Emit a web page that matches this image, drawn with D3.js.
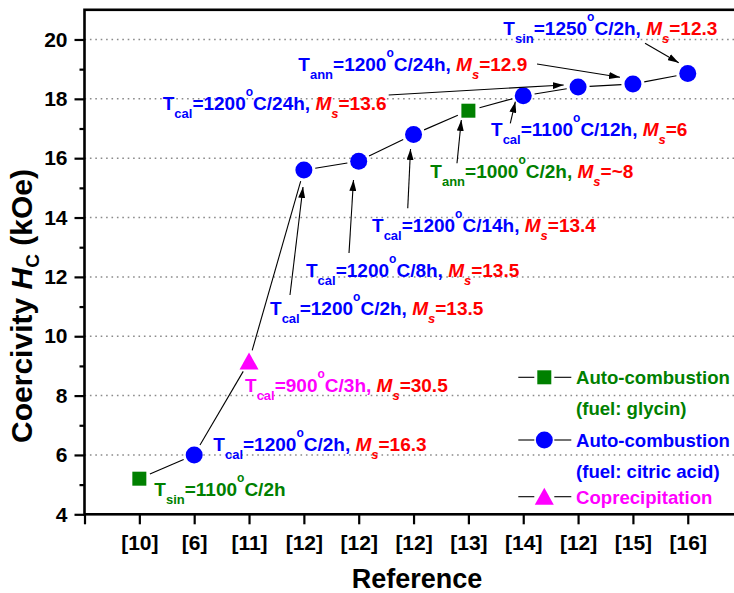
<!DOCTYPE html>
<html><head><meta charset="utf-8">
<script src="https://cdn.jsdelivr.net/npm/d3@7"></script>
<style>
html,body{margin:0;padding:0;background:#fff;}
svg{display:block;font-family:"Liberation Sans",Arial,sans-serif;font-weight:bold;}
text{white-space:pre;}
</style></head><body>
<svg id="chart" width="734" height="593"></svg>
<script>
// Literature reference for each reported sample (x axis categories)
const references = ['[10]','[6]','[11]','[12]','[12]','[12]','[13]','[14]','[12]','[15]','[16]'];
// Coercivity Hc in kOe
const coercivity = [5.2, 6.0, 9.15, 15.6, 15.9, 16.8, 17.6, 18.1, 18.4, 18.5, 18.85];
// Synthesis route of each sample
const routes = ['glycin','citric','coprecip','citric','citric','citric','glycin','citric','citric','citric','citric'];
// Heat treatment: kind (subscript), temperature in °C, duration
const treatKinds = ['sin','cal','cal','cal','cal','cal','ann','cal','cal','ann','sin'];
const treatTemps = [1100,1200,900,1200,1200,1200,1000,1100,1200,1200,1250];
const treatTimes = ['2h','2h','3h','2h','8h','14h','2h','12h','24h','24h','2h'];
// Saturation magnetisation quoted next to each sample
const msValues = [null,'16.3','30.5','13.5','13.5','13.4','~8','6','13.6','12.9','12.3'];
// Axis ticks
const yMajorTicks = [4,6,8,10,12,14,16,18,20];
const yMinorTicks = [5,7,9,11,13,15,17,19];
const gridValues = [6,8,10,12,14,16,18,20];
// Legend
const legendRoutes = ['glycin','citric','coprecip'];
const legendTexts = [['Auto-combustion','(fuel: glycin)'],['Auto-combustion','(fuel: citric acid)'],['Coprecipitation']];

// Annotation placement in data units: label anchor [x, y]
const labelAnchors = [[1.273,4.617],[2.349,6.133],[2.927,8.121],[3.383,10.716],[4.039,11.997],
  [5.243,13.513],[6.306,15.333],[7.413,16.748],[1.426,17.625],[3.899,18.939],[7.637,20.152]];
// Arrows from a label toward its point: [fromX, fromY, toX, toY] (null = no arrow)
const arrowPaths = [null,null,null,
  [3.747,11.390,3.984,15.030],
  [4.823,12.806,4.905,15.266],
  [5.894,14.312,5.945,16.310],
  [6.792,15.828,6.871,17.287],
  [7.764,17.176,7.856,17.904],
  [5.547,18.130,8.738,18.467],
  [8.251,19.175,9.765,18.726],
  [10.221,19.872,10.835,19.218]];

const routeStyle = {
  glycin:   {color:'#008000', shape:'square'},
  citric:   {color:'#0000ff', shape:'circle'},
  coprecip: {color:'#ff00ff', shape:'triangle'}
};
const msColor = '#ff0000';

const svg = d3.select('#chart');
svg.append('rect').attr('width',734).attr('height',593).attr('fill','#fff');

const x = d3.scaleLinear().domain([0,12]).range([84.5,742.6]);
const y = d3.scaleLinear().domain([4,21]).range([514.3,9.8]);

// arrowhead
svg.append('defs').append('marker')
  .attr('id','arrow').attr('viewBox','0 0 11 7').attr('refX',11).attr('refY',3.5)
  .attr('markerWidth',11).attr('markerHeight',7).attr('markerUnits','userSpaceOnUse')
  .attr('orient','auto')
  .append('path').attr('d','M0,0L11,3.5L0,7Z').attr('fill','#000');

// dotted horizontal grid
svg.append('g').selectAll('line').data(gridValues).join('line')
  .attr('x1',x(0)).attr('x2',x(12)).attr('y1',d=>y(d)).attr('y2',d=>y(d))
  .attr('stroke','#8a8a8a').attr('stroke-width',1.5).attr('stroke-dasharray','1.6,3.8');

// axes
const yAxis = svg.append('g').attr('transform',`translate(${x(0)},0)`)
  .call(d3.axisLeft(y).tickValues(yMajorTicks).tickSize(10).tickPadding(7).tickFormat(d3.format('d')));
const yMinor = svg.append('g').attr('transform',`translate(${x(0)},0)`)
  .call(d3.axisLeft(y).tickValues(yMinorTicks).tickSize(5).tickFormat(''));
const xAxis = svg.append('g').attr('transform',`translate(0,${y(4)})`)
  .call(d3.axisBottom(x).tickValues(d3.range(0,12)).tickSize(10)
    .tickFormat(i => i === 0 ? '' : references[i-1]));
[yAxis,yMinor,xAxis].forEach(g=>{
  g.select('.domain').remove();
  g.selectAll('.tick line').attr('stroke','#000').attr('stroke-width',2.2);
});
yAxis.selectAll('.tick text').attr('font-size',21).attr('font-family','"Liberation Sans",Arial,sans-serif')
  .attr('font-weight','bold').attr('fill','#000');
xAxis.selectAll('.tick text').attr('font-size',21).attr('font-family','"Liberation Sans",Arial,sans-serif')
  .attr('font-weight','bold').attr('fill','#000').attr('y',36).attr('dy',0);

// frame
svg.append('rect').attr('x',x(0)).attr('y',y(21)).attr('width',x(12)-x(0)).attr('height',y(4)-y(21))
  .attr('fill','none').attr('stroke','#000').attr('stroke-width',2.6);

// axis titles
svg.append('text').attr('x',417).attr('y',588).attr('text-anchor','middle')
  .attr('font-size',27).attr('fill','#000').text('Reference');
const yt = svg.append('text').attr('transform','translate(31.5,306) rotate(-90)')
  .attr('text-anchor','middle').attr('font-size',30).attr('fill','#000');
yt.append('tspan').text('Coercivity ');
yt.append('tspan').attr('font-style','italic').text('H');
yt.append('tspan').attr('font-size',19).attr('dy',7).text('C');
yt.append('tspan').attr('dy',-7).text(' (kOe)');

// connecting line, broken near each symbol
const pts = coercivity.map((v,i)=>[x(i+1),y(v)]);
const gap = 11.5;
const segs = d3.pairs(pts).map(([a,b])=>{
  const dx=b[0]-a[0], dy=b[1]-a[1], L=Math.hypot(dx,dy), ux=dx/L, uy=dy/L;
  return [a[0]+ux*gap, a[1]+uy*gap, b[0]-ux*gap, b[1]-uy*gap];
});
svg.append('g').selectAll('line').data(segs).join('line')
  .attr('x1',d=>d[0]).attr('y1',d=>d[1]).attr('x2',d=>d[2]).attr('y2',d=>d[3])
  .attr('stroke','#000').attr('stroke-width',1.1);

function drawSymbol(g, route, cx, cy){
  const s = routeStyle[route];
  if (s.shape==='square') g.append('rect').attr('x',cx-7).attr('y',cy-7).attr('width',14).attr('height',14).attr('fill',s.color);
  else if (s.shape==='circle') g.append('circle').attr('cx',cx).attr('cy',cy).attr('r',8.5).attr('fill',s.color);
  else g.append('path').attr('d',`M${cx},${cy-9}L${cx+9.5},${cy+8}L${cx-9.5},${cy+8}Z`).attr('fill',s.color);
}
const symG = svg.append('g');
pts.forEach((p,i)=>drawSymbol(symG, routes[i], p[0], p[1]));

// arrows
svg.append('g').selectAll('line').data(arrowPaths.filter(d=>d)).join('line')
  .attr('x1',d=>x(d[0])).attr('y1',d=>y(d[1])).attr('x2',d=>x(d[2])).attr('y2',d=>y(d[3]))
  .attr('stroke','#000').attr('stroke-width',1.1).attr('marker-end','url(#arrow)');

// sample labels: T_kind=temp°C/time, M_s=value
const subShift = 8, supShift = -14;
coercivity.forEach((v,i)=>{
  const c = routeStyle[routes[i]].color;
  const t = svg.append('text').attr('x',x(labelAnchors[i][0])).attr('y',y(labelAnchors[i][1]))
    .attr('font-size',19).attr('fill',c);
  t.append('tspan').text('T');
  t.append('tspan').attr('font-size',13).attr('dy',subShift).text(treatKinds[i]);
  t.append('tspan').attr('dy',-subShift).text('=' + treatTemps[i]);
  t.append('tspan').attr('font-size',12).attr('dy',supShift).text('o');
  t.append('tspan').attr('dy',-supShift).text('C/' + treatTimes[i] + (msValues[i] ? ', ' : ''));
  if (msValues[i]) {
    t.append('tspan').attr('fill',msColor).attr('font-style','italic').text('M');
    t.append('tspan').attr('fill',msColor).attr('font-style','italic').attr('font-size',13).attr('dy',subShift).text('s');
    t.append('tspan').attr('fill',msColor).attr('dy',-subShift).text('=' + msValues[i]);
  }
});

// legend
const legRows = [377.3, 440, 496.7];
const legX = 544.3;
const lg = svg.append('g');
legendRoutes.forEach((r,k)=>{
  const cy = legRows[k];
  lg.append('line').attr('x1',legX-26).attr('x2',legX-10).attr('y1',cy).attr('y2',cy).attr('stroke','#000').attr('stroke-width',1.1);
  lg.append('line').attr('x1',legX+10).attr('x2',legX+27).attr('y1',cy).attr('y2',cy).attr('stroke','#000').attr('stroke-width',1.1);
  drawSymbol(lg, r, legX, cy);
  legendTexts[k].forEach((s,j)=>{
    lg.append('text').attr('x',576).attr('y',cy+7+j*31).attr('font-size',18.6)
      .attr('fill',routeStyle[r].color).text(s);
  });
});
</script>
</body></html>
